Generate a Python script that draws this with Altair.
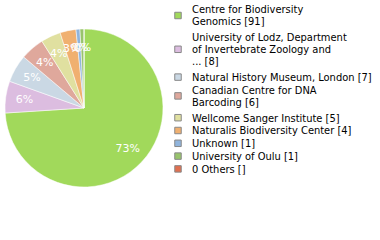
import altair as alt
import pandas as pd

categories = [
    "Centre for Biodiversity\nGenomics [91]",
    "University of Lodz, Department\nof Invertebrate Zoology and\n... [8]",
    "Natural History Museum, London [7]",
    "Canadian Centre for DNA\nBarcoding [6]",
    "Wellcome Sanger Institute [5]",
    "Naturalis Biodiversity Center [4]",
    "Unknown [1]",
    "University of Oulu [1]",
    "0 Others []",
]
values = [91, 8, 7, 6, 5, 4, 1, 1, 0]
pct_labels = ["73%", "6%", "5%", "4%", "4%", "3%", "0%", "0%", ""]
colors = ["#a1d95b", "#dcbde0", "#cad8e4", "#dfa89c", "#e0e0a0",
          "#f0b070", "#90b4dc", "#98c46c", "#e07050"]

df = pd.DataFrame({
    "cat": categories,
    "value": values,
    "pct": pct_labels,
    "idx": list(range(len(categories))),
})

FONT = "DejaVu Sans"
LEGEND_FONT = "DejaVu Sans Condensed"

color = alt.Color("cat:N", scale=alt.Scale(domain=categories, range=colors), legend=None)

base = alt.Chart(df).encode(
    theta=alt.Theta("value:Q", stack=True),
    order=alt.Order("idx:Q"),
    x=alt.value(84),
    y=alt.value(108),
)

arcs = base.mark_arc(outerRadius=79, stroke="white", strokeWidth=0.5).encode(color=color)

texts = base.mark_text(radius=60, fill="white", font=FONT, fontSize=11).encode(
    text="pct:N"
)

# legend built from the same categories: rows stacked by their line count
leg = (
    alt.Chart(df)
    .transform_calculate(lines="split(datum.cat, '\\n')")
    .transform_calculate(nl="length(datum.lines)")
    .transform_calculate(pitch="12 * datum.nl + 0.8 + (datum.nl > 1 ? 3 : 0)")
    .transform_window(cum="sum(pitch)", sort=[alt.SortField("idx")], frame=[None, 0])
    .transform_calculate(ty="10.3 + datum.cum - datum.pitch")
    .transform_calculate(sy="datum.ty + (datum.nl - 1) * 6 - 0.8")
)

swatches = leg.mark_square(size=42, stroke="#888888", strokeWidth=1, opacity=1).encode(
    x=alt.value(178),
    y=alt.Y("sy:Q", scale=None),
    color=color,
)

leg_text = leg.mark_text(
    align="left", baseline="middle", font=LEGEND_FONT, fontSize=11,
    lineHeight=12, color="#000000",
).encode(
    x=alt.value(192),
    y=alt.Y("ty:Q", scale=None),
    text=alt.Text("lines:N"),
)

chart = (arcs + texts + swatches + leg_text).properties(
    width=380, height=240, padding=0, autosize="none"
).configure_view(stroke=None)

chart.save("out.html", embed_options={"renderer": "svg", "actions": False})
